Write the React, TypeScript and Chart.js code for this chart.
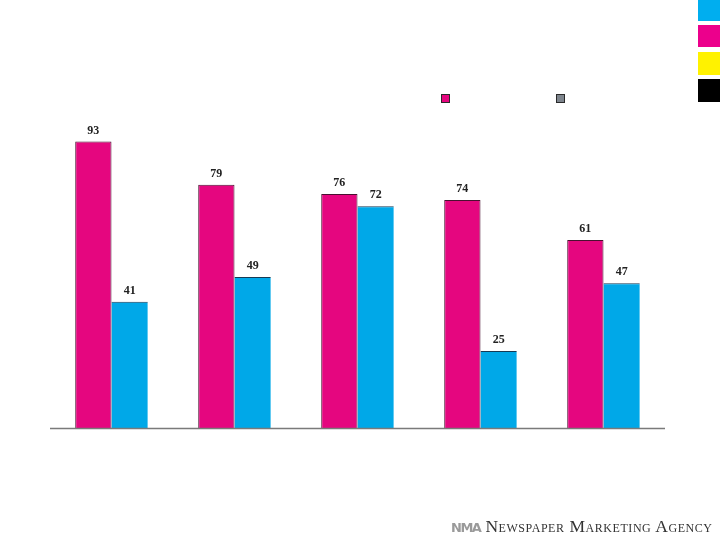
import React, { useEffect, useRef } from "react";
import { Chart, registerables } from "chart.js";

Chart.register(...registerables);

const categories: string[] = ["Group 1", "Group 2", "Group 3", "Group 4", "Group 5"];
const seriesA: number[] = [93, 79, 76, 74, 61];
const seriesB: number[] = [41, 49, 72, 25, 47];
const seriesLabels: string[] = ["Series A", "Series B"];
const yMin = 0;
const yMax = 100;

const PINK = "#E5067F";
const CYAN = "#00A8E8";
const LEGEND_GRAY = "#7E858D";

const valueLabelPlugin = {
  id: "valueLabels",
  afterDatasetsDraw(chart: any) {
    const ctx = chart.ctx;
    ctx.save();
    ctx.font = "bold 12px 'Liberation Serif', 'Times New Roman', serif";
    ctx.fillStyle = "#222";
    ctx.textAlign = "center";
    ctx.textBaseline = "bottom";
    chart.data.datasets.forEach((ds: any, di: number) => {
      const meta = chart.getDatasetMeta(di);
      meta.data.forEach((bar: any, i: number) => {
        ctx.fillText(String(ds.data[i]), bar.x, bar.y - 5);
      });
    });
    // baseline
    const y0 = chart.scales.y.getPixelForValue(0);
    ctx.strokeStyle = "#7a7a7a";
    ctx.lineWidth = 1.5;
    ctx.beginPath();
    ctx.moveTo(chart.chartArea.left, y0 + 0.5);
    ctx.lineTo(chart.chartArea.right, y0 + 0.5);
    ctx.stroke();
    // legend markers (no text in reference)
    const legendX = [441, 556];
    const legendColors = [PINK, LEGEND_GRAY];
    legendColors.forEach((c, i) => {
      ctx.fillStyle = c;
      ctx.fillRect(legendX[i], 94, 9, 9);
      ctx.strokeStyle = "#2a2a2a";
      ctx.lineWidth = 1;
      ctx.strokeRect(legendX[i] + 0.5, 94.5, 8, 8);
    });
    ctx.restore();
  },
};

export default function App() {
  const canvasRef = useRef<HTMLCanvasElement | null>(null);

  useEffect(() => {
    document.body.style.margin = "0";
    const canvas = canvasRef.current!;
    const chart = new Chart(canvas, {
      type: "bar",
      data: {
        labels: categories,
        datasets: [
          {
            label: seriesLabels[0],
            data: seriesA,
            backgroundColor: PINK,
            borderColor: "#4a1030",
            borderWidth: 1,
            borderSkipped: "bottom",
            categoryPercentage: 0.59,
            barPercentage: 1,
          },
          {
            label: seriesLabels[1],
            data: seriesB,
            backgroundColor: CYAN,
            borderColor: "#163a55",
            borderWidth: { top: 1, left: 0, right: 0, bottom: 0 },
            borderSkipped: "bottom",
            categoryPercentage: 0.59,
            barPercentage: 1,
          },
        ],
      },
      options: {
        responsive: false,
        animation: false,
        devicePixelRatio: 1,
        layout: { padding: { left: 50, right: 55, top: 120, bottom: 112 } },
        plugins: {
          legend: { display: false },
          tooltip: { enabled: false },
        },
        scales: {
          x: { display: false },
          y: { display: false, min: yMin, max: yMax },
        },
      },
      plugins: [valueLabelPlugin],
    });
    return () => chart.destroy();
  }, []);

  const sq = (top: number, h: number, color: string) => (
    <div
      style={{
        position: "absolute",
        left: 698,
        top,
        width: 22,
        height: h,
        background: color,
      }}
    />
  );

  return (
    <div style={{ position: "absolute", left: 0, top: 0, width: 720, height: 540, background: "#fff", overflow: "hidden" }}>
      <canvas ref={canvasRef} width={720} height={540} style={{ position: "absolute", left: 0, top: 0 }} />
      {sq(0, 21, "#00AEEF")}
      {sq(25, 22, "#EC008C")}
      {sq(52, 23, "#FFF200")}
      {sq(79, 23, "#000000")}
      <div
        style={{
          position: "absolute",
          left: 451,
          top: 516,
          whiteSpace: "nowrap",
          display: "flex",
          alignItems: "baseline",
        }}
      >
        <span
          style={{
            fontFamily: "'DejaVu Sans', sans-serif",
            fontWeight: "bold",
            fontSize: 13,
            color: "#9a9a9a",
            letterSpacing: -1.5,
            marginRight: 5,
          }}
        >
          NMA
        </span>
        <span
          style={{
            fontFamily: "'Liberation Serif', 'Times New Roman', serif",
            fontVariant: "small-caps",
            fontSize: 17.5,
            color: "#333",
            letterSpacing: 0.55,
          }}
        >
          Newspaper Marketing Agency
        </span>
      </div>
    </div>
  );
}
